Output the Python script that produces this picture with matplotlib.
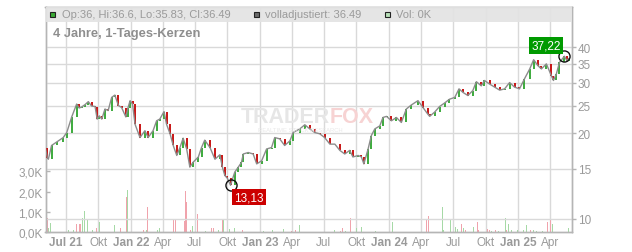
import matplotlib
matplotlib.use('Agg')
import matplotlib.pyplot as plt
import matplotlib.dates as mdates
from matplotlib.patches import Rectangle
import pandas as pd

plt.rcParams['font.family'] = ['Liberation Sans', 'DejaVu Sans']

# ---------------- data ----------------
price_dates = [
    '2021-05-05', '2021-05-10', '2021-05-13', '2021-05-22', '2021-06-05', '2021-06-24',
    '2021-07-04', '2021-07-18', '2021-08-01', '2021-08-08', '2021-08-15', '2021-08-25',
    '2021-09-03', '2021-09-12', '2021-09-22', '2021-09-28', '2021-10-04', '2021-10-11',
    '2021-10-20', '2021-10-29', '2021-11-08', '2021-11-17', '2021-11-27', '2021-12-06',
    '2021-12-18', '2021-12-24', '2021-12-30', '2022-01-06', '2022-01-13', '2022-01-27',
    '2022-02-10', '2022-02-19', '2022-03-05', '2022-03-15', '2022-03-24', '2022-04-05',
    '2022-04-12', '2022-04-22', '2022-05-01', '2022-05-11', '2022-05-20', '2022-05-29',
    '2022-06-08', '2022-06-17', '2022-06-26', '2022-07-11', '2022-07-20', '2022-07-29',
    '2022-08-13', '2022-08-27', '2022-09-10', '2022-09-17', '2022-09-24', '2022-10-01',
    '2022-10-10', '2022-10-22', '2022-11-01', '2022-11-10', '2022-11-15', '2022-11-29',
    '2022-12-13', '2022-12-23', '2023-01-06', '2023-01-20', '2023-02-03', '2023-02-12',
    '2023-02-26', '2023-03-12', '2023-03-27', '2023-04-05', '2023-04-24', '2023-05-08',
    '2023-05-22', '2023-06-05', '2023-06-19', '2023-07-03', '2023-07-18', '2023-08-01',
    '2023-08-15', '2023-08-29', '2023-09-12', '2023-09-21', '2023-10-06', '2023-10-15',
    '2023-10-22', '2023-11-03', '2023-11-12', '2023-11-22', '2023-12-06', '2023-12-15',
    '2023-12-25', '2024-01-08', '2024-01-22', '2024-02-05', '2024-02-19', '2024-03-04',
    '2024-03-23', '2024-04-06', '2024-04-20', '2024-04-25', '2024-05-09', '2024-05-23',
    '2024-06-06', '2024-06-20', '2024-07-05', '2024-07-17', '2024-07-28', '2024-08-11',
    '2024-08-25', '2024-09-04', '2024-09-18', '2024-09-27', '2024-10-12', '2024-10-26',
    '2024-11-09', '2024-11-23', '2024-12-07', '2024-12-21', '2025-01-04', '2025-01-18',
    '2025-02-02', '2025-02-13', '2025-02-25', '2025-03-07', '2025-03-21', '2025-04-04',
    '2025-04-10', '2025-04-18', '2025-04-27', '2025-05-11', '2025-05-18', '2025-05-23',
]
price_close = [
    17.7, 16.4, 16.2, 18.1, 18.6, 19.3,
    20.1, 22.8, 25.3, 24.5, 24.7, 25.2,
    25.8, 24.9, 24.8, 22.4, 23.0, 22.4,
    24.3, 24.0, 26.7, 27.2, 25.0, 24.6,
    22.8, 24.5, 26.0, 25.3, 21.5, 19.3,
    20.4, 19.3, 20.4, 22.1, 22.4, 23.8,
    21.5, 19.9, 18.1, 16.7, 17.8, 19.2,
    17.6, 15.2, 15.8, 16.5, 17.8, 18.9,
    17.8, 16.2, 16.8, 15.2, 14.2, 13.9,
    13.13, 14.6, 15.2, 15.8, 16.9, 17.1,
    16.9, 15.6, 16.0, 17.6, 17.8, 19.3,
    19.1, 18.1, 18.8, 20.1, 20.7, 21.4,
    20.7, 20.1, 19.9, 19.3, 18.3, 18.3,
    17.4, 16.9, 17.4, 16.5, 16.7, 16.5,
    15.6, 17.6, 19.6, 20.7, 21.2, 22.7,
    22.9, 22.1, 22.7, 21.8, 24.3, 25.1,
    26.0, 24.6, 23.3, 22.9, 23.7, 24.8,
    25.5, 26.3, 26.7, 28.6, 27.8, 27.1,
    28.2, 30.3, 29.3, 30.6, 29.7, 29.0,
    28.3, 28.6, 30.1, 29.0, 28.6, 31.0,
    33.6, 36.2, 34.5, 33.6, 35.0, 31.8,
    30.6, 32.2, 35.4, 37.22, 35.9, 36.49,
]

vol_dates = [
    '2021-05-10', '2021-05-14', '2021-05-18', '2021-07-08', '2021-07-22', '2021-08-01',
    '2021-08-08', '2021-08-12', '2021-08-18', '2021-08-23', '2021-08-31', '2021-09-15',
    '2021-09-27', '2021-10-04', '2021-11-15', '2021-12-04', '2021-12-19', '2021-12-22',
    '2022-01-13', '2022-02-07', '2022-02-14', '2022-02-17', '2022-03-18', '2022-03-24',
    '2022-05-03', '2022-05-07', '2022-06-01', '2022-06-04', '2022-06-07', '2022-06-19',
    '2022-06-25', '2022-07-09', '2022-07-30', '2022-08-17', '2022-08-22', '2022-09-05',
    '2022-09-17', '2022-09-21', '2022-10-08', '2022-10-20', '2022-11-13', '2023-01-10',
    '2023-02-06', '2023-03-08', '2023-04-01', '2023-04-12', '2023-04-24', '2023-05-17',
    '2023-08-01', '2023-08-16', '2023-08-22', '2023-08-30', '2023-09-15', '2023-10-01',
    '2023-10-15', '2023-11-25', '2023-12-15', '2024-01-10', '2024-03-09', '2024-03-23',
    '2024-04-16', '2024-04-23', '2024-05-31', '2024-06-03', '2024-06-23', '2024-07-06',
    '2024-07-14', '2024-07-25', '2024-07-30', '2024-08-05', '2024-08-28', '2024-09-06',
    '2024-09-10', '2024-10-05', '2024-10-10', '2024-10-18', '2024-10-28', '2024-11-05',
    '2024-11-25', '2024-11-29', '2024-12-05', '2024-12-12', '2024-12-30', '2025-01-15',
    '2025-01-23', '2025-01-28', '2025-02-05', '2025-02-12', '2025-02-20', '2025-03-10',
    '2025-03-25', '2025-04-02', '2025-04-08', '2025-04-20', '2025-05-23',
]
vol_values = [
    0.71, 0.18, 0.43, 0.10, 0.10, 0.38,
    0.38, 0.38, 0.71, 1.04, 0.58, 0.10,
    0.18, 0.50, 0.33, 0.18, 1.73, 2.06,
    0.10, 0.10, 0.12, 1.24, 0.10, 0.20,
    0.58, 0.58, 0.55, 2.03, 1.49, 0.10,
    0.30, 0.87, 0.06, 0.20, 0.20, 0.12,
    0.60, 0.66, 0.17, 0.20, 0.10, 0.06,
    0.10, 0.15, 0.06, 0.10, 0.33, 0.10,
    0.10, 0.06, 0.18, 0.06, 0.71, 0.18,
    0.23, 0.06, 1.17, 0.50, 0.13, 0.23,
    0.66, 0.78, 1.22, 0.10, 0.58, 0.23,
    0.15, 0.38, 0.18, 0.10, 0.23, 0.48,
    0.10, 0.13, 0.10, 0.06, 0.10, 0.06,
    0.71, 0.10, 0.38, 0.12, 0.10, 0.10,
    0.33, 0.06, 0.10, 0.08, 0.06, 0.06,
    0.50, 0.66, 0.38, 0.15, 0.18,
]
vol_up = [
    False, True, True, True, True, False,
    False, False, True, True, True, True,
    False, True, True, False, False, True,
    True, False, True, False, True, True,
    False, False, False, False, False, False,
    True, False, True, False, False, True,
    False, True, True, True, False, True,
    True, True, False, False, True, True,
    True, False, False, True, False, True,
    True, True, True, True, True, True,
    False, False, True, True, True, True,
    True, False, True, False, True, False,
    False, False, False, True, False, True,
    True, False, True, True, True, True,
    True, False, False, True, True, True,
    False, False, True, True, True,
]

x_tick_dates = ['2021-07-01', '2021-10-01', '2022-01-01', '2022-04-01', '2022-07-01',
                '2022-10-01', '2023-01-01', '2023-04-01', '2023-07-01', '2023-10-01',
                '2024-01-01', '2024-04-01', '2024-07-01', '2024-10-01', '2025-01-01',
                '2025-04-01']
x_tick_labels = ['Jul 21', 'Okt', 'Jan 22', 'Apr', 'Jul', 'Okt', 'Jan 23', 'Apr', 'Jul',
                 'Okt', 'Jan 24', 'Apr', 'Jul', 'Okt', 'Jan 25', 'Apr']
price_ticks = [10, 15, 20, 25, 30, 35, 40]
vol_ticks = [0, 1, 2, 3]
vol_tick_labels = ['0,0K', '1,0K', '2,0K', '3,0K']

high_value, high_label = 37.22, '37,22'
low_value, low_label = 13.13, '13,13'

# ---------------- figure ----------------
W, H = 632, 253
fig = plt.figure(figsize=(W / 100, H / 100), dpi=100)
ax_l, ax_r, ax_b, ax_t = 45.5, 572.3, 233.0, 8.0
axv = fig.add_axes([ax_l / W, 1 - ax_b / H, (ax_r - ax_l) / W, (ax_b - ax_t) / H])
axp = axv.twinx()

pdates = mdates.date2num(pd.to_datetime(price_dates))
vdates = mdates.date2num(pd.to_datetime(vol_dates))
xt = mdates.date2num(pd.to_datetime(x_tick_dates))

TXT = '#9a9a9a'
GRID = '#d9d9d9'
SPINE = '#b5b5b5'

# volume bars
vcolors = ['#a6d9a6' if u else '#f0a3ac' for u in vol_up]
axv.bar(vdates, vol_values, width=2.6, color=vcolors, zorder=2, linewidth=0)
axv.set_ylim(0, 11.14)
axv.set_yticks(vol_ticks)
axv.set_yticklabels(vol_tick_labels)
axv.tick_params(axis='y', direction='in', length=3, width=1, color=SPINE,
                labelcolor=TXT, labelsize=8.5, pad=2)

axv.set_xticks(xt)
axv.set_xticklabels(x_tick_labels)
axv.tick_params(axis='x', length=0, labelcolor=TXT, labelsize=8.5, pad=3)
for lab in axv.get_xticklabels():
    if lab.get_text()[-2:].isdigit():
        lab.set_fontweight('bold')
axv.grid(axis='x', color=GRID, lw=1, zorder=0)
axv.set_axisbelow(True)

xmin = mdates.date2num(pd.Timestamp('2021-07-01')) - (65.7 - ax_l) / 0.3537
xmax = mdates.date2num(pd.Timestamp('2021-07-01')) + (ax_r - 65.7) / 0.3537
axv.set_xlim(xmin, xmax)

# price axis
axp.set_yscale('log')
axp.set_ylim(9.0, 55.4)
axp.set_yticks(price_ticks)
axp.set_yticklabels([str(t) for t in price_ticks])
axp.yaxis.set_minor_locator(matplotlib.ticker.NullLocator())
axp.tick_params(axis='y', direction='out', length=3, width=1, color=SPINE,
                labelcolor=TXT, labelsize=8.5, pad=1)
axp.grid(axis='y', color=GRID, lw=1, zorder=0)
axp.set_axisbelow(True)

for a in (axv, axp):
    for s in a.spines.values():
        s.set_color(SPINE)
        s.set_linewidth(1)

# candles: body from previous close to close, adjusted-close line on top
opens = [price_close[0]] + price_close[:-1]
for d, o, c in zip(pdates, opens, price_close):
    col = '#3caa3c' if c >= o else '#c81414'
    axp.vlines(d, min(o, c), max(o, c), color=col, lw=1.4, zorder=3)
axp.plot(pdates, price_close, color='#8c8c8c', lw=1.0, zorder=4)

# high / low markers
i_hi = price_close.index(high_value)
i_lo = price_close.index(low_value)
axp.plot(pdates[i_hi], high_value, 'o', ms=8, mfc='none', mec='#111111', mew=1, zorder=6)
axp.plot(pdates[i_lo], low_value, 'o', ms=8, mfc='none', mec='#111111', mew=1, zorder=6)
axp.annotate(high_label, (pdates[i_hi], high_value), xytext=(-13, 7.5),
             textcoords='offset points', ha='center', va='center', color='white',
             fontsize=8.5, zorder=7,
             bbox=dict(boxstyle='square,pad=0.2', fc='#009a00', ec='none'))
axp.annotate(low_label, (pdates[i_lo], low_value), xytext=(13.5, -8.5),
             textcoords='offset points', ha='center', va='center', color='white',
             fontsize=8.5, zorder=7,
             bbox=dict(boxstyle='square,pad=0.2', fc='#cc0000', ec='none'))

# legend band at top
band_h = (23 - ax_t) / (ax_b - ax_t)
axp.add_patch(Rectangle((0, 1 - band_h), 1, band_h, transform=axp.transAxes,
                        fc='#e3e3e3', ec='none', alpha=0.92, zorder=5))

def px(x, y):
    return x / W, 1 - y / H

def square(x, y, fc):
    fig.patches.append(Rectangle(px(x, y + 5), 5 / W, 5 / H, transform=fig.transFigure,
                                 fc=fc, ec='#222222', lw=0.8, zorder=10))

square(50.3, 12.5, '#3aaa35')
fig.text(*px(61.5, 15.5), 'Op:36, Hi:36.6, Lo:35.83, Cl:36.49', fontsize=8,
         color=TXT, va='center', ha='left', zorder=10)
square(254.3, 12.5, '#6a6a6a')
fig.text(*px(265, 15.5), 'volladjustiert: 36.49', fontsize=8, color=TXT,
         va='center', ha='left', zorder=10)
square(385.3, 12.5, '#b8e0b8')
fig.text(*px(396.5, 15.5), 'Vol: 0K', fontsize=8, color=TXT,
         va='center', ha='left', zorder=10)

fig.text(*px(53, 33.5), '4 Jahre, 1-Tages-Kerzen', fontsize=9.3, fontweight='bold',
         color='#8e8e8e', va='center', ha='left', zorder=10)

# watermark
fig.text(*px(330, 117.5), 'TRADER', fontsize=15.5, fontweight='bold', color='#e6e6e6',
         ha='right', va='center', zorder=1)
fig.text(*px(330, 117.5), 'FOX', fontsize=15.5, fontweight='bold', color='#f7d3d3',
         ha='left', va='center', zorder=1)
fig.text(*px(300, 130.5), 'REALTIME STOCK RESEARCH', fontsize=4.2, color='#e8e8e8',
         ha='center', va='center', zorder=1)

fig.savefig('out.png', dpi=100)
